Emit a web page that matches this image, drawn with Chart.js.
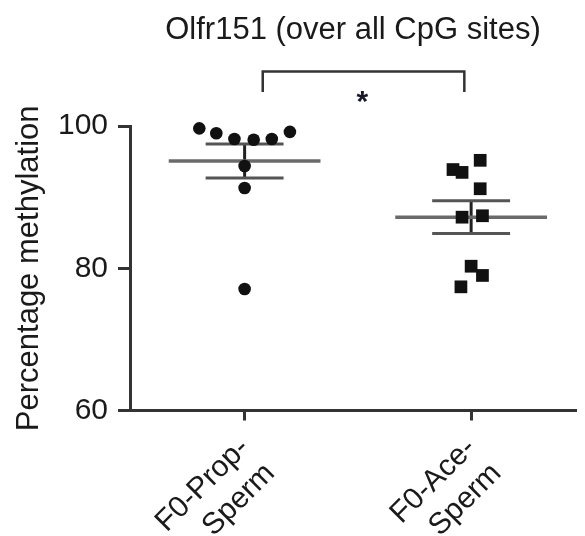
<!DOCTYPE html>
<html>
<head>
<meta charset="utf-8">
<script src="https://cdn.jsdelivr.net/npm/chart.js@4"></script>
<style>
html, body { margin: 0; padding: 0; background: #fff; }
#wrap { width: 585px; height: 536px; }
</style>
</head>
<body>
<div id="wrap"><canvas id="methylationChart"></canvas></div>
<script>
// values
const groupLabels = [['F0-Prop-', 'Sperm'], ['F0-Ace-', 'Sperm']];
const propValues = [99.7, 99.0, 98.2, 98.1, 98.2, 99.2, 94.4, 91.3, 77.1];
const propJitter = [-0.2, -0.125, -0.045, 0.04, 0.12, 0.2, 0, 0, 0];
const aceValues = [95.2, 93.9, 93.5, 91.2, 87.2, 87.4, 80.3, 79.0, 77.4];
const aceJitter = [0.04, -0.08, -0.04, 0.04, -0.04, 0.05, 0, 0.05, -0.045];
const groupMeans = [95.1, 87.2];
const groupSem = [2.4, 2.3];
const yTicks = [60, 80, 100];

// significance bracket (data units)
const bracketX = [1.08, 1.97];
const bracketY = [104.8, 107.7];
const starAt = {x: 1.52, y: 104.5};

const meanHalf = 0.335;
const capHalf = 0.172;
const font = 'Liberation Sans, Arial, Helvetica, sans-serif';

function scatterPoints(values, jitter, center) {
    return values.map((v, i) => ({x: center + jitter[i], y: v}));
}

function segment(x1, y1, x2, y2) {
    return [{x: x1, y: y1}, {x: x2, y: y2}];
}

const lineDatasets = [];
groupMeans.forEach((m, i) => {
    const c = i + 1;
    const s = groupSem[i];
    lineDatasets.push({ type: 'line', data: segment(c - meanHalf, m, c + meanHalf, m), borderColor: '#6a6a6a', borderWidth: 3.5 });
    lineDatasets.push({ type: 'line', data: segment(c - capHalf, m + s, c + capHalf, m + s), borderColor: '#555', borderWidth: 3 });
    lineDatasets.push({ type: 'line', data: segment(c - capHalf, m - s, c + capHalf, m - s), borderColor: '#555', borderWidth: 3 });
    lineDatasets.push({ type: 'line', data: segment(c, m - s, c, m + s), borderColor: '#222', borderWidth: 3 });
});
lineDatasets.push({
    type: 'line',
    data: [{x: bracketX[0], y: bracketY[0]}, {x: bracketX[0], y: bracketY[1]}, {x: bracketX[1], y: bracketY[1]}, {x: bracketX[1], y: bracketY[0]}],
    borderColor: '#333', borderWidth: 2.5
});
lineDatasets.forEach(d => { d.pointRadius = 0; d.fill = false; d.clip = false; d.tension = 0; });

const starPlugin = {
    id: 'star',
    afterDatasetsDraw(chart) {
        const ctx = chart.ctx;
        const x = chart.scales.x.getPixelForValue(starAt.x);
        const y = chart.scales.y.getPixelForValue(starAt.y);
        ctx.save();
        ctx.fillStyle = '#1a1a2a';
        ctx.font = 'bold 30px ' + font;
        ctx.textAlign = 'center';
        ctx.textBaseline = 'alphabetic';
        ctx.fillText('*', x, y + 17);
        ctx.restore();
    }
};

new Chart(document.getElementById('methylationChart'), {
    type: 'scatter',
    data: {
        datasets: [
            { data: scatterPoints(propValues, propJitter, 1), pointStyle: 'circle', pointRadius: 6.3, backgroundColor: '#111', borderWidth: 0, clip: false },
            { data: scatterPoints(aceValues, aceJitter, 2), pointStyle: 'rect', pointRadius: 9, backgroundColor: '#111', borderWidth: 0, clip: false }
        ].concat(lineDatasets)
    },
    options: {
        responsive: true,
        maintainAspectRatio: false,
        animation: false,
        layout: { padding: 0 },
        plugins: {
            legend: { display: false },
            tooltip: { enabled: false },
            title: {
                display: true,
                text: 'Olfr151 (over all CpG sites)',
                fullSize: false,
                color: '#1a1a1a',
                font: { family: font, size: 31, weight: 'normal' },
                padding: { top: 12, bottom: 77 }
            }
        },
        scales: {
            x: {
                type: 'linear',
                min: 0.494,
                max: 2.463,
                afterBuildTicks: axis => { axis.ticks = [{value: 1}, {value: 2}]; },
                afterFit: scale => { scale.height = 125.5; scale.paddingLeft = 0; scale.paddingRight = 0; },
                ticks: {
                    autoSkip: false,
                    minRotation: 45,
                    maxRotation: 45,
                    padding: 10,
                    color: '#1a1a1a',
                    font: { family: font, size: 30 },
                    callback: v => groupLabels[v - 1]
                },
                grid: { drawOnChartArea: false, tickLength: 10, tickWidth: 3, tickColor: '#333' },
                border: { color: '#333', width: 3 }
            },
            y: {
                min: 60,
                max: 100,
                afterBuildTicks: axis => { axis.ticks = yTicks.map(v => ({value: v})); },
                afterFit: scale => { scale.width = 130; },
                ticks: {
                    padding: 10,
                    color: '#1a1a1a',
                    font: { family: font, size: 30 }
                },
                title: {
                    display: true,
                    text: 'Percentage methylation',
                    color: '#1a1a1a',
                    font: { family: font, size: 31 },
                    padding: { top: 11, bottom: 0 }
                },
                grid: { drawOnChartArea: false, tickLength: 12, tickWidth: 3, tickColor: '#333' },
                border: { color: '#333', width: 3 }
            }
        }
    },
    plugins: [starPlugin]
});
</script>
</body>
</html>
